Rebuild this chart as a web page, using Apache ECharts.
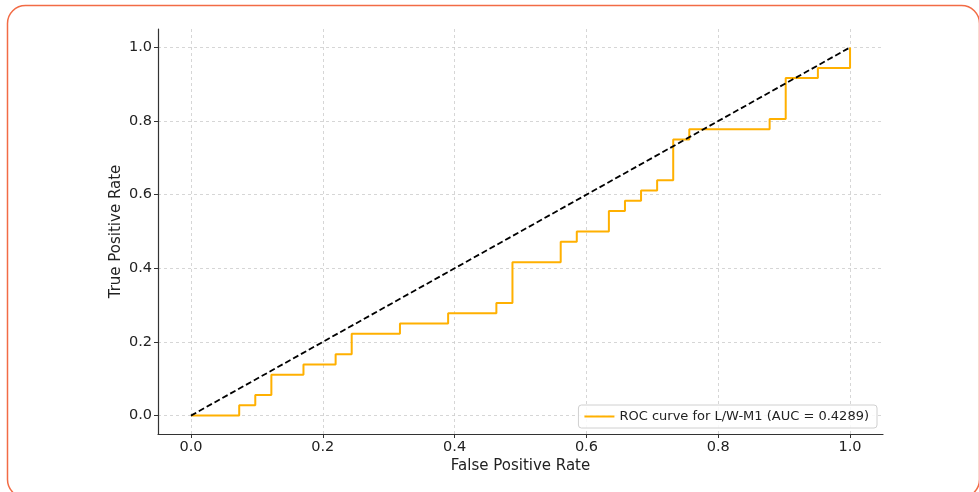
<!DOCTYPE html>
<html>
<head>
<meta charset="utf-8">
<script src="https://cdn.jsdelivr.net/npm/echarts@6/dist/echarts.min.js"></script>
<style>
  html, body { margin: 0; padding: 0; background: #fff; }
  #chart-container { width: 979px; height: 492px; }
</style>
</head>
<body>
<div id="chart-container"></div>
<script>
// ROC corner points
var fpr = [0, 0.0732, 0.0732, 0.0976, 0.0976, 0.1220, 0.1220, 0.1707, 0.1707, 0.2195, 0.2195,
  0.2439, 0.2439, 0.3171, 0.3171, 0.3902, 0.3902, 0.4634, 0.4634, 0.4878, 0.4878,
  0.5610, 0.5610, 0.5854, 0.5854, 0.6341, 0.6341, 0.6585, 0.6585, 0.6829, 0.6829,
  0.7073, 0.7073, 0.7317, 0.7317, 0.7561, 0.7561, 0.8780, 0.8780, 0.9024, 0.9024,
  0.9512, 0.9512, 1, 1];
var tpr = [0, 0, 0.0278, 0.0278, 0.0556, 0.0556, 0.1111, 0.1111, 0.1389, 0.1389, 0.1667,
  0.1667, 0.2222, 0.2222, 0.25, 0.25, 0.2778, 0.2778, 0.3056, 0.3056, 0.4167,
  0.4167, 0.4722, 0.4722, 0.5, 0.5, 0.5556, 0.5556, 0.5833, 0.5833, 0.6111,
  0.6111, 0.6389, 0.6389, 0.75, 0.75, 0.7778, 0.7778, 0.8056, 0.8056, 0.9167,
  0.9167, 0.9444, 0.9444, 1];
var chanceX = [0, 1];
var chanceY = [0, 1];
var ticks = [0, 0.2, 0.4, 0.6, 0.8, 1.0];
var rocName = 'ROC curve for L/W-M1 (AUC = 0.4289)';

var dom = document.getElementById('chart-container');
var myChart = echarts.init(dom, null, { renderer: 'canvas' });

var font = 'DejaVu Sans';
var txt = '#222222';

function axisCommon(name, gap) {
  return {
    type: 'value',
    min: -0.05,
    max: 1.05,
    name: name,
    nameLocation: 'middle',
    nameGap: gap,
    nameMoveOverlap: false,
    nameTextStyle: { fontFamily: font, fontSize: 15, color: txt },
    axisLine: { show: true, onZero: false, lineStyle: { color: '#333', width: 1.2 } },
    axisTick: { show: true, length: 4, customValues: ticks, lineStyle: { color: '#333', width: 1 } },
    axisLabel: {
      customValues: ticks, fontFamily: font, fontSize: 14.5, color: txt, margin: 6,
      formatter: function (v) { return v.toFixed(1); }
    },
    splitLine: { show: true, lineStyle: { color: '#cccccc', width: 0.8, type: [3, 3] } }
  };
}

var option = {
  animation: false,
  backgroundColor: '#fff',
  graphic: [{
    type: 'rect',
    shape: { x: 7.5, y: 5.5, width: 972, height: 492, r: 18 },
    style: { fill: 'none', stroke: '#f26b45', lineWidth: 1.5 },
    silent: true
  }],
  grid: { left: 158, right: 96, top: 29, bottom: 58 },
  xAxis: axisCommon('False Positive Rate', 25),
  yAxis: axisCommon('True Positive Rate', 34),
  legend: {
    data: [rocName],
    right: 102,
    bottom: 64,
    orient: 'horizontal',
    icon: 'rect',
    itemWidth: 30,
    itemHeight: 2,
    itemGap: 8,
    padding: [5, 8, 5, 6],
    borderColor: '#d0d0d0',
    borderWidth: 1,
    borderRadius: 3,
    backgroundColor: 'rgba(255,255,255,0.85)',
    textStyle: { fontFamily: font, fontSize: 13, color: txt }
  },
  series: [{
    name: rocName,
    type: 'line',
    data: fpr.map(function (x, i) { return [x, tpr[i]]; }),
    showSymbol: false,
    symbol: 'none',
    color: '#ffb000',
    lineStyle: { color: '#ffb000', width: 2 }
  }, {
    name: 'chance',
    type: 'line',
    data: chanceX.map(function (x, i) { return [x, chanceY[i]]; }),
    showSymbol: false,
    symbol: 'none',
    lineStyle: { color: '#000', width: 1.8, type: [6, 3] }
  }]
};

myChart.setOption(option);
window.addEventListener('resize', myChart.resize);
</script>
</body>
</html>
